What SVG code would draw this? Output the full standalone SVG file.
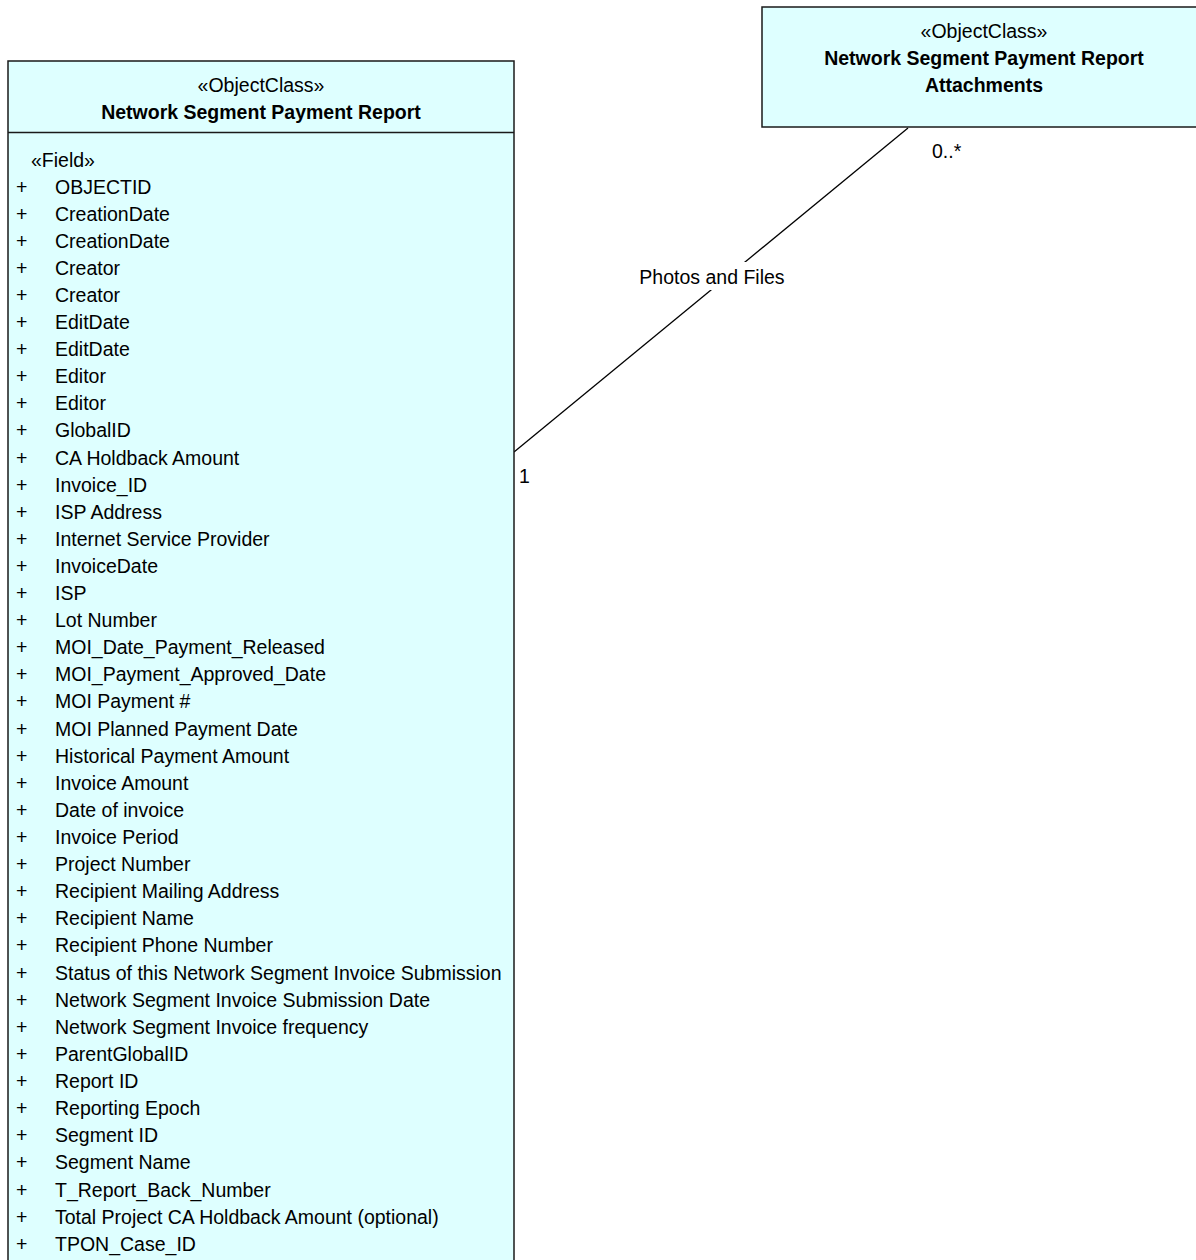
<svg xmlns="http://www.w3.org/2000/svg" width="1196" height="1260" viewBox="0 0 1196 1260">
<style>
.box{fill:#DEFFFF;stroke:#1a1a1a;stroke-width:1.5}
.t{font-family:"Liberation Sans",Arial,sans-serif;font-size:19.5px;fill:#000}
.b{font-weight:bold}
.c{text-anchor:middle}
.conn{stroke:#000;stroke-width:1.3;fill:none}
</style>
<rect width="1196" height="1260" fill="#fff"/>
<g id="connectors">
<line class="conn" x1="514" y1="452" x2="908" y2="128"/>
<rect x="638" y="262" width="148" height="28" fill="#fff"/>
<text class="t c" x="712" y="284">Photos and Files</text>
<text class="t" x="932" y="158">0..*</text>
<text class="t" x="519" y="483">1</text>
</g>
<g id="node-attachments">
<rect class="box" x="762" y="7" width="446" height="120"/>
<text class="t c" x="984" y="38">«ObjectClass»</text>
<text class="t c b" x="984" y="65">Network Segment Payment Report</text>
<text class="t c b" x="984" y="92">Attachments</text>
</g>
<g id="node-report">
<rect class="box" x="8" y="61" width="506" height="1210"/>
<line x1="8" y1="132.5" x2="514" y2="132.5" stroke="#1a1a1a" stroke-width="1.5"/>
<text class="t c" x="261" y="92">«ObjectClass»</text>
<text class="t c b" x="261" y="119">Network Segment Payment Report</text>
<text class="t" x="31" y="167">«Field»</text>
<g class="t" transform="translate(0,1)">
<text x="16" y="193">+</text><text x="55" y="193">OBJECTID</text>
<text x="16" y="220">+</text><text x="55" y="220">CreationDate</text>
<text x="16" y="247">+</text><text x="55" y="247">CreationDate</text>
<text x="16" y="274">+</text><text x="55" y="274">Creator</text>
<text x="16" y="301">+</text><text x="55" y="301">Creator</text>
<text x="16" y="328">+</text><text x="55" y="328">EditDate</text>
<text x="16" y="355">+</text><text x="55" y="355">EditDate</text>
<text x="16" y="382">+</text><text x="55" y="382">Editor</text>
<text x="16" y="409">+</text><text x="55" y="409">Editor</text>
<text x="16" y="436">+</text><text x="55" y="436">GlobalID</text>
<text x="16" y="464">+</text><text x="55" y="464">CA Holdback Amount</text>
<text x="16" y="491">+</text><text x="55" y="491">Invoice_ID</text>
<text x="16" y="518">+</text><text x="55" y="518">ISP Address</text>
<text x="16" y="545">+</text><text x="55" y="545">Internet Service Provider</text>
<text x="16" y="572">+</text><text x="55" y="572">InvoiceDate</text>
<text x="16" y="599">+</text><text x="55" y="599">ISP</text>
<text x="16" y="626">+</text><text x="55" y="626">Lot Number</text>
<text x="16" y="653">+</text><text x="55" y="653">MOI_Date_Payment_Released</text>
<text x="16" y="680">+</text><text x="55" y="680">MOI_Payment_Approved_Date</text>
<text x="16" y="707">+</text><text x="55" y="707">MOI Payment #</text>
<text x="16" y="735">+</text><text x="55" y="735">MOI Planned Payment Date</text>
<text x="16" y="762">+</text><text x="55" y="762">Historical Payment Amount</text>
<text x="16" y="789">+</text><text x="55" y="789">Invoice Amount</text>
<text x="16" y="816">+</text><text x="55" y="816">Date of invoice</text>
<text x="16" y="843">+</text><text x="55" y="843">Invoice Period</text>
<text x="16" y="870">+</text><text x="55" y="870">Project Number</text>
<text x="16" y="897">+</text><text x="55" y="897">Recipient Mailing Address</text>
<text x="16" y="924">+</text><text x="55" y="924">Recipient Name</text>
<text x="16" y="951">+</text><text x="55" y="951">Recipient Phone Number</text>
<text x="16" y="979">+</text><text x="55" y="979">Status of this Network Segment Invoice Submission</text>
<text x="16" y="1006">+</text><text x="55" y="1006">Network Segment Invoice Submission Date</text>
<text x="16" y="1033">+</text><text x="55" y="1033">Network Segment Invoice frequency</text>
<text x="16" y="1060">+</text><text x="55" y="1060">ParentGlobalID</text>
<text x="16" y="1087">+</text><text x="55" y="1087">Report ID</text>
<text x="16" y="1114">+</text><text x="55" y="1114">Reporting Epoch</text>
<text x="16" y="1141">+</text><text x="55" y="1141">Segment ID</text>
<text x="16" y="1168">+</text><text x="55" y="1168">Segment Name</text>
<text x="16" y="1196">+</text><text x="55" y="1196">T_Report_Back_Number</text>
<text x="16" y="1223">+</text><text x="55" y="1223">Total Project CA Holdback Amount (optional)</text>
<text x="16" y="1250">+</text><text x="55" y="1250">TPON_Case_ID</text>
</g>
</g>
</svg>
